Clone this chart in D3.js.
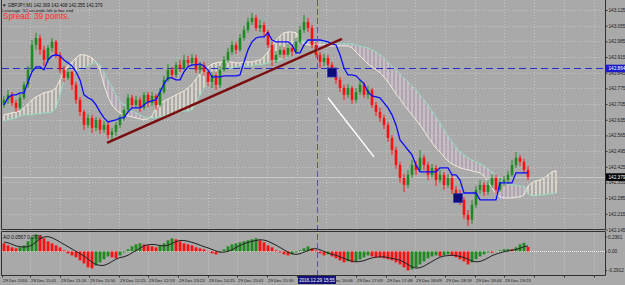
<!DOCTYPE html>
<html>
<head>
<meta charset="utf-8">
<script src="https://cdnjs.cloudflare.com/ajax/libs/d3/7.8.5/d3.min.js"></script>
<style>
body { margin: 0; background: #a9a9a9; }
svg { display: block; }
text { font-family: "Liberation Sans", Arial, sans-serif; }
</style>
</head>
<body>
<div id="chart-area"></div>
<script>
// GBPJPY M1 candles
var opens = [142.701,142.724,142.746,142.710,142.688,142.733,142.791,142.858,142.969,143.000,
142.947,142.902,142.956,142.983,142.925,142.858,142.822,142.849,142.791,142.724,
142.670,142.612,142.643,142.599,142.634,142.590,142.612,142.567,142.581,142.612,
142.643,142.679,142.733,142.701,142.724,142.688,142.746,142.710,142.741,142.701,
142.759,142.813,142.858,142.835,142.880,142.866,142.902,142.889,142.911,142.858,
142.880,142.849,142.804,142.835,142.791,142.858,142.902,142.938,142.969,142.947,
143.000,143.036,143.072,143.090,143.045,143.058,143.027,142.969,142.902,142.925,
142.947,142.925,142.956,142.938,142.983,143.036,143.072,143.045,142.969,142.925,
142.893,142.911,142.880,142.849,142.813,142.777,142.746,142.777,142.724,142.759,
142.791,142.746,142.768,142.701,142.670,142.643,142.612,142.554,142.500,142.433,
142.375,142.344,142.389,142.433,142.411,142.465,142.433,142.389,142.420,142.366,
142.389,142.344,142.375,142.322,142.299,142.277,142.210,142.188,142.255,142.322,
142.344,142.313,142.344,142.375,142.322,142.357,142.366,142.389,142.433,142.465,
142.447,142.411];

var highs = [142.741,142.768,142.759,142.724,142.750,142.804,142.875,142.991,143.023,143.014,
142.965,142.969,143.000,142.991,142.938,142.875,142.866,142.858,142.804,142.737,
142.679,142.661,142.657,142.648,142.643,142.630,142.625,142.599,142.625,142.657,
142.697,142.750,142.746,142.741,142.737,142.759,142.759,142.759,142.750,142.777,
142.831,142.884,142.871,142.893,142.902,142.925,142.920,142.929,142.925,142.893,
142.893,142.858,142.849,142.849,142.875,142.920,142.956,142.987,142.983,143.018,
143.054,143.090,143.112,143.103,143.081,143.072,143.036,142.983,142.942,142.965,
142.960,142.974,142.969,143.000,143.054,143.103,143.090,143.058,142.983,142.938,
142.929,142.925,142.893,142.862,142.826,142.791,142.795,142.786,142.777,142.813,
142.804,142.786,142.777,142.715,142.688,142.657,142.625,142.567,142.514,142.447,
142.393,142.411,142.456,142.451,142.500,142.478,142.447,142.438,142.433,142.411,
142.402,142.393,142.389,142.339,142.322,142.290,142.232,142.277,142.339,142.366,
142.357,142.366,142.393,142.389,142.375,142.384,142.407,142.456,142.491,142.478,
142.460,142.429];

var lows = [142.688,142.706,142.697,142.670,142.679,142.724,142.777,142.849,142.947,142.925,
142.875,142.889,142.938,142.911,142.844,142.804,142.813,142.768,142.706,142.652,
142.590,142.599,142.576,142.585,142.572,142.576,142.550,142.536,142.563,142.599,
142.630,142.666,142.683,142.688,142.670,142.679,142.692,142.697,142.679,142.692,
142.750,142.804,142.817,142.822,142.849,142.858,142.871,142.875,142.844,142.840,
142.831,142.786,142.777,142.768,142.777,142.849,142.889,142.925,142.929,142.938,
142.987,143.023,143.058,143.032,143.027,143.009,142.956,142.875,142.889,142.911,
142.907,142.916,142.920,142.929,142.974,143.023,143.027,142.956,142.911,142.866,
142.875,142.858,142.831,142.795,142.759,142.724,142.733,142.706,142.710,142.746,
142.733,142.728,142.688,142.652,142.625,142.594,142.536,142.478,142.416,142.353,
142.313,142.331,142.375,142.389,142.402,142.411,142.366,142.375,142.339,142.353,
142.322,142.331,142.304,142.277,142.255,142.192,142.161,142.170,142.241,142.304,
142.295,142.299,142.331,142.304,142.313,142.339,142.348,142.380,142.420,142.429,
142.398,142.366];

var closes = [142.724,142.746,142.710,142.688,142.733,142.791,142.858,142.969,143.000,142.947,
142.902,142.956,142.983,142.925,142.858,142.822,142.849,142.791,142.724,142.670,
142.612,142.643,142.599,142.634,142.590,142.612,142.567,142.581,142.612,142.643,
142.679,142.733,142.701,142.724,142.688,142.746,142.710,142.741,142.701,142.759,
142.813,142.858,142.835,142.880,142.866,142.902,142.889,142.911,142.858,142.880,
142.849,142.804,142.835,142.791,142.858,142.902,142.938,142.969,142.947,143.000,
143.036,143.072,143.090,143.045,143.058,143.027,142.969,142.902,142.925,142.947,
142.925,142.956,142.938,142.983,143.036,143.072,143.045,142.969,142.925,142.893,
142.911,142.880,142.849,142.813,142.777,142.746,142.777,142.724,142.759,142.791,
142.746,142.768,142.701,142.670,142.643,142.612,142.554,142.500,142.433,142.375,
142.344,142.389,142.433,142.411,142.465,142.433,142.389,142.420,142.366,142.389,
142.344,142.375,142.322,142.299,142.277,142.210,142.188,142.255,142.322,142.344,
142.313,142.344,142.375,142.322,142.357,142.366,142.389,142.433,142.465,142.447,
142.411,142.379];

// blue kijun line
var kijun = [142.701,142.733,142.746,142.746,142.755,142.755,142.804,142.849,142.871,142.871,
142.858,142.902,142.920,142.925,142.920,142.902,142.889,142.875,142.849,142.813,
142.746,142.733,142.724,142.701,142.670,142.643,142.625,142.630,142.634,142.643,
142.643,142.670,142.688,142.688,142.688,142.701,142.715,142.719,142.724,142.759,
142.795,142.822,142.822,142.813,142.813,142.849,142.871,142.880,142.880,142.884,
142.875,142.858,142.826,142.826,142.826,142.831,142.831,142.831,142.831,142.835,
142.893,142.947,142.983,143.000,143.005,143.005,143.023,142.991,142.983,142.983,
142.983,142.983,142.969,142.934,142.934,142.969,142.991,142.991,142.991,142.991,
142.987,142.983,142.974,142.969,142.925,142.866,142.835,142.835,142.831,142.813,
142.795,142.759,142.741,142.737,142.733,142.710,142.688,142.657,142.612,142.545,
142.523,142.500,142.478,142.433,142.402,142.402,142.402,142.402,142.402,142.420,
142.420,142.420,142.389,142.389,142.366,142.308,142.308,142.308,142.308,142.277,
142.277,142.277,142.277,142.277,142.353,142.353,142.353,142.353,142.398,142.398,
142.398,142.398];

// ichimoku cloud, runs a few bars past the last candle
var spanA = [142.657,142.661,142.666,142.670,142.674,142.688,142.706,142.724,142.737,142.746,
142.755,142.759,142.764,142.777,142.813,142.849,142.875,142.893,142.911,142.925,
142.925,142.920,142.911,142.893,142.858,142.791,142.737,142.701,142.679,142.666,
142.657,142.652,142.648,142.643,142.639,142.634,142.639,142.652,142.688,142.706,
142.719,142.728,142.737,142.746,142.755,142.764,142.777,142.795,142.817,142.840,
142.858,142.871,142.884,142.889,142.893,142.893,142.893,142.893,142.889,142.889,
142.893,142.893,142.893,142.898,142.902,142.916,142.938,142.965,142.991,143.009,
143.023,143.027,143.027,143.023,143.000,142.974,142.969,142.969,142.969,142.969,
142.969,142.965,142.965,142.965,142.965,142.965,142.965,142.956,142.938,142.920,
142.902,142.884,142.871,142.858,142.844,142.826,142.804,142.777,142.750,142.728,
142.701,142.679,142.657,142.634,142.612,142.585,142.558,142.532,142.509,142.491,
142.469,142.451,142.438,142.429,142.420,142.416,142.411,142.407,142.402,142.398,
142.384,142.357,142.331,142.304,142.290,142.286,142.286,142.286,142.290,142.290,
142.299,142.339,142.353,142.362,142.366,142.375,142.389,142.402,142.407];

var spanB = [142.630,142.634,142.639,142.643,142.652,142.657,142.657,142.657,142.661,142.661,
142.666,142.666,142.670,142.688,142.746,142.813,142.835,142.844,142.849,142.858,
142.866,142.875,142.884,142.889,142.880,142.849,142.813,142.782,142.746,142.715,
142.701,142.688,142.674,142.666,142.657,142.648,142.643,142.643,142.643,142.648,
142.652,142.657,142.661,142.666,142.670,142.674,142.674,142.679,142.706,142.746,
142.777,142.795,142.808,142.822,142.849,142.862,142.866,142.866,142.871,142.875,
142.875,142.875,142.875,142.880,142.880,142.884,142.889,142.893,142.898,142.902,
142.907,142.916,142.934,142.960,142.983,142.987,142.987,142.983,142.983,142.983,
142.983,142.978,142.978,142.978,142.974,142.974,142.974,142.974,142.969,142.965,
142.960,142.956,142.947,142.938,142.925,142.911,142.893,142.875,142.858,142.840,
142.822,142.804,142.786,142.768,142.746,142.724,142.701,142.674,142.648,142.621,
142.590,142.563,142.536,142.514,142.491,142.478,142.465,142.456,142.447,142.438,
142.429,142.416,142.402,142.384,142.366,142.357,142.348,142.344,142.344,142.339,
142.339,142.304,142.295,142.295,142.299,142.299,142.304,142.304,142.308];

// awesome oscillator and its signal line
var ao = [0.103,0.077,0.052,0.039,0.052,0.077,0.129,0.181,0.219,0.206,
0.168,0.129,0.103,0.077,0.052,0.013,-0.026,-0.052,-0.077,-0.116,
-0.155,-0.206,-0.219,-0.181,-0.142,-0.103,-0.065,-0.077,-0.090,-0.052,
-0.013,0.026,0.065,0.090,0.103,0.090,0.077,0.065,0.052,0.077,
0.103,0.142,0.168,0.155,0.129,0.103,0.090,0.077,0.052,0.039,
0.026,-0.005,-0.026,-0.039,-0.013,0.026,0.065,0.090,0.103,0.116,
0.129,0.142,0.155,0.168,0.142,0.116,0.077,0.052,0.013,-0.013,
-0.039,-0.052,-0.039,-0.013,0.013,0.039,0.065,0.039,0.013,-0.026,
-0.052,-0.039,-0.065,-0.090,-0.116,-0.142,-0.129,-0.142,-0.129,-0.103,
-0.077,-0.052,-0.065,-0.077,-0.082,-0.090,-0.103,-0.116,-0.142,-0.168,
-0.206,-0.245,-0.232,-0.206,-0.168,-0.129,-0.090,-0.065,-0.052,-0.065,
-0.052,-0.039,-0.052,-0.077,-0.103,-0.129,-0.168,-0.142,-0.103,-0.065,
-0.039,-0.013,-0.016,-0.005,0.013,0.026,0.030,0.026,0.052,0.090,
0.110,0.0567];

var aoSignal = [0.12,0.11,0.09,0.07,0.06,0.055,0.06,0.08,0.12,0.16,
0.185,0.19,0.175,0.15,0.12,0.09,0.06,0.03,0.00,-0.03,
-0.06,-0.10,-0.14,-0.17,-0.18,-0.18,-0.16,-0.13,-0.10,-0.08,
-0.07,-0.05,-0.02,0.01,0.04,0.07,0.085,0.09,0.085,0.075,
0.07,0.08,0.10,0.125,0.14,0.14,0.13,0.115,0.10,0.08,
0.06,0.045,0.025,0.005,-0.01,-0.01,0.00,0.02,0.05,0.075,
0.10,0.115,0.13,0.14,0.15,0.145,0.13,0.105,0.08,0.05,
0.02,-0.01,-0.03,-0.04,-0.03,-0.01,0.01,0.03,0.035,0.02,
0.00,-0.02,-0.04,-0.05,-0.07,-0.09,-0.11,-0.125,-0.135,-0.13,
-0.12,-0.10,-0.085,-0.075,-0.07,-0.07,-0.08,-0.09,-0.10,-0.115,
-0.14,-0.17,-0.20,-0.215,-0.21,-0.19,-0.16,-0.13,-0.10,-0.075,
-0.06,-0.055,-0.05,-0.055,-0.065,-0.08,-0.10,-0.125,-0.135,-0.13,
-0.11,-0.085,-0.055,-0.035,-0.02,-0.005,0.005,0.015,0.025,0.04,
0.06,0.07];

var priceTicks = [143.125,143.055,142.985,142.915,142.845,142.775,142.705,142.635,
142.565,142.495,142.425,142.355,142.285,142.215,142.145];
var aoTicks = [0.2361, 0.00, -0.2912];
var aoTickLabels = ["0.2361", "0.00", "-0.2912"];

var timeTickBars = [-0.5,6.5,14,21.25,28.75,36,43.5,51,58.25,65.75,73.25,80.5,88,95.5,
102.75,110.25,117.75,125,132.5,140,147.5];
var timeLabels = ["29 Dec 2016","29 Dec 11:01","29 Dec 11:24","29 Dec 11:50","29 Dec 12:25",
"29 Dec 12:53","29 Dec 13:23","29 Dec 14:25","29 Dec 15:01","29 Dec 15:30","",
"29 Dec 16:06","29 Dec 17:09","29 Dec 17:48","29 Dec 18:09","29 Dec 18:18","29 Dec 18:44",
"29 Dec 19:23","","",""];

// drawn objects: trend line, white arrow, trade markers, crosshair, bid
var trendLine = [{bar: 25.75, price: 142.532}, {bar: 84.5, price: 142.996}];
var arrowLine = [{bar: 81, price: 142.733}, {bar: 92.5, price: 142.469}];
var markers = [{bar: 82, price: 142.846}, {bar: 113.5, price: 142.286}];
var crosshair = {bar: 78.25, price: 142.864, label: "2016.12.29 15:55"};
var bid = 142.379;

var W = 625, H = 285;
var plotRight = 605;
var mainTop = 0, mainBottom = 229.5;
var subTop = 231.5, subBottom = 275.5;

var x = d3.scaleLinear().domain([0, 131]).range([4, 528]);
var y = d3.scaleLinear().domain([142.145, 143.125]).range([229.5, 10]);
var yAo = d3.scaleLinear().domain([-0.2912, 0.2361]).range([274, 233]);

var svg = d3.select("#chart-area")
	.append("svg")
	.attr("width", W)
	.attr("height", H);

svg.append("rect")
	.attr("width", W)
	.attr("height", H)
	.attr("fill", "#a9a9a9");

svg.append("clipPath").attr("id", "main-clip")
	.append("rect")
	.attr("x", 2).attr("y", mainTop)
	.attr("width", plotRight - 2).attr("height", mainBottom - mainTop);
svg.append("clipPath").attr("id", "sub-clip")
	.append("rect")
	.attr("x", 2).attr("y", subTop)
	.attr("width", plotRight - 2).attr("height", subBottom - subTop);

var g = svg.append("g").attr("clip-path", "url(#main-clip)");
var sub = svg.append("g").attr("clip-path", "url(#sub-clip)");

// grid
g.selectAll(".hgrid").data(priceTicks).enter().append("line")
	.attr("x1", 2).attr("x2", plotRight)
	.attr("y1", d => Math.round(y(d)) + 0.5).attr("y2", d => Math.round(y(d)) + 0.5)
	.attr("stroke", "#c6c6c6").attr("stroke-dasharray", "1,2");

var vgrid = timeTickBars.slice(1);
g.selectAll(".vgrid").data(vgrid).enter().append("line")
	.attr("x1", d => Math.round(x(d)) + 0.5).attr("x2", d => Math.round(x(d)) + 0.5)
	.attr("y1", mainTop).attr("y2", mainBottom)
	.attr("stroke", "#c6c6c6").attr("stroke-dasharray", "1,2");
sub.selectAll(".vgrid").data(vgrid).enter().append("line")
	.attr("x1", d => Math.round(x(d)) + 0.5).attr("x2", d => Math.round(x(d)) + 0.5)
	.attr("y1", subTop).attr("y2", subBottom)
	.attr("stroke", "#c6c6c6").attr("stroke-dasharray", "1,2");

// cloud hatching: beige when span A is on top, thistle when span B is
var cloudIdx = d3.range(spanA.length);
g.selectAll(".hatch").data(cloudIdx).enter().append("line")
	.attr("x1", d => x(d)).attr("x2", d => x(d))
	.attr("y1", d => y(spanA[d])).attr("y2", d => y(spanB[d]))
	.attr("stroke", d => spanA[d] >= spanB[d] ? "#e8e0d0" : "#d8bfd8")
	.attr("stroke-width", 1.5);

var spanLine = function(arr) {
	return d3.line().x((d, i) => x(i)).y(d => y(d))(arr);
};
g.append("path").attr("d", spanLine(spanA))
	.attr("fill", "none").attr("stroke", "#f1eadb").attr("stroke-width", 1);
g.append("path").attr("d", spanLine(spanB))
	.attr("fill", "none").attr("stroke", "#93dcc1").attr("stroke-width", 1);

// bid line and the blue horizontal of the crosshair
g.append("line")
	.attr("x1", 2).attr("x2", plotRight)
	.attr("y1", Math.round(y(bid)) + 0.5).attr("y2", Math.round(y(bid)) + 0.5)
	.attr("stroke", "#c9c9c9");
g.append("line")
	.attr("x1", 2).attr("x2", plotRight)
	.attr("y1", Math.round(y(crosshair.price)) + 0.5).attr("y2", Math.round(y(crosshair.price)) + 0.5)
	.attr("stroke", "#2b2bc8").attr("stroke-dasharray", "7,4");

// candles
var idx = d3.range(closes.length);
var candleColor = function(i) { return closes[i] >= opens[i] ? "#1f8a1f" : "#ff1010"; };

g.selectAll(".wick").data(idx).enter().append("line")
	.attr("x1", d => x(d)).attr("x2", d => x(d))
	.attr("y1", d => y(highs[d])).attr("y2", d => y(lows[d]))
	.attr("stroke", candleColor).attr("stroke-width", 1);

g.selectAll(".body").data(idx).enter().append("rect")
	.attr("x", d => x(d) - 1.3)
	.attr("width", 2.6)
	.attr("y", d => y(Math.max(opens[d], closes[d])))
	.attr("height", d => Math.max(1, Math.abs(y(opens[d]) - y(closes[d]))))
	.attr("fill", candleColor);

// kijun
g.append("path")
	.attr("d", d3.line().x((d, i) => x(i)).y(d => y(d))(kijun))
	.attr("fill", "none").attr("stroke", "#0a0aff").attr("stroke-width", 1.3);

// trend line + arrow
var objLine = d3.line().x(d => x(d.bar)).y(d => y(d.price));
g.append("path").attr("d", objLine(trendLine))
	.attr("stroke", "#7a0d0d").attr("stroke-width", 2.4).attr("fill", "none");
g.append("path").attr("d", objLine(arrowLine))
	.attr("stroke", "#ffffff").attr("stroke-width", 1.4).attr("fill", "none");

g.selectAll(".marker").data(markers).enter().append("rect")
	.attr("x", d => x(d.bar) - 4.5).attr("y", d => y(d.price) - 4.5)
	.attr("width", 9).attr("height", 9)
	.attr("fill", "#0c0c78").attr("stroke", "#3a3ac0").attr("stroke-width", 0.8);

// AO histogram
sub.append("line")
	.attr("x1", 2).attr("x2", plotRight)
	.attr("y1", Math.round(yAo(0)) + 0.5).attr("y2", Math.round(yAo(0)) + 0.5)
	.attr("stroke", "#f4f4f4").attr("stroke-dasharray", "1,1");

sub.selectAll(".aobar").data(idx).enter().append("rect")
	.attr("x", d => x(d) - 1.4)
	.attr("width", 2.8)
	.attr("y", d => Math.min(yAo(0), yAo(ao[d])))
	.attr("height", d => Math.abs(yAo(ao[d]) - yAo(0)))
	.attr("fill", d => (d > 0 && ao[d] > ao[d - 1]) ? "#1f8a1f" : "#ff1010");

sub.append("path")
	.attr("d", d3.line().x((d, i) => x(i)).y(d => yAo(d))(aoSignal))
	.attr("fill", "none").attr("stroke", "#222").attr("stroke-width", 1);

// crosshair vertical through both windows
svg.append("line")
	.attr("x1", Math.round(x(crosshair.bar)) + 0.5).attr("x2", Math.round(x(crosshair.bar)) + 0.5)
	.attr("y1", 0).attr("y2", subBottom)
	.attr("stroke", "#5656a8").attr("stroke-dasharray", "6,3");

// frames
var frame = svg.append("g").attr("stroke", "#303030").attr("fill", "none");
frame.append("path").attr("d", "M1.5,0V" + mainBottom + "H" + (plotRight + 0.5) + "V0");
frame.append("path").attr("d", "M1.5," + subTop + "V" + subBottom + "H" + (plotRight + 0.5) + "V" + subTop + "Z");

// price axis
var yAxis = d3.axisRight(y)
	.tickValues(priceTicks)
	.tickSize(2)
	.tickPadding(1)
	.tickFormat(d3.format(".3f"));
var yAxisGroup = svg.append("g")
	.attr("transform", "translate(" + (plotRight + 0.5) + ",0)")
	.call(yAxis);
yAxisGroup.select(".domain").remove();
yAxisGroup.selectAll("line").attr("stroke", "#303030");
yAxisGroup.selectAll("text").attr("font-size", "4.7px").attr("fill", "#1a1a1a").attr("font-family", "Liberation Sans");

var priceTag = function(price, bg) {
	var tag = svg.append("g").attr("transform", "translate(" + (plotRight + 1) + "," + y(price) + ")");
	tag.append("rect").attr("x", 0).attr("y", -3.8).attr("width", 19).attr("height", 7.6).attr("fill", bg);
	tag.append("text").attr("x", 2.5).attr("dy", "0.34em")
		.attr("font-size", "4.7px").attr("fill", "#fff")
		.text(d3.format(".3f")(price));
};
priceTag(crosshair.price, "#1c1cc8");
priceTag(bid, "#000000");

// AO axis
svg.selectAll(".aolabel").data(aoTicks).enter().append("text")
	.attr("x", plotRight + 3)
	.attr("y", (d, i) => yAo(d) + [4, 0.5, -3.5][i])
	.attr("dy", "0.34em")
	.attr("font-size", "4.7px").attr("fill", "#1a1a1a")
	.text((d, i) => aoTickLabels[i]);
svg.selectAll(".aotick").data(aoTicks).enter().append("line")
	.attr("x1", plotRight).attr("x2", plotRight + 2)
	.attr("y1", (d, i) => yAo(d) + [4, 0.5, -3.5][i])
	.attr("y2", (d, i) => yAo(d) + [4, 0.5, -3.5][i])
	.attr("stroke", "#303030");

// time axis
var xAxis = d3.axisBottom(x)
	.tickValues(timeTickBars)
	.tickSize(2)
	.tickPadding(1)
	.tickFormat((d, i) => timeLabels[i]);
var xAxisGroup = svg.append("g")
	.attr("transform", "translate(0," + subBottom + ")")
	.call(xAxis);
xAxisGroup.select(".domain").remove();
xAxisGroup.selectAll("line").attr("stroke", "#303030");
xAxisGroup.selectAll("text")
	.attr("text-anchor", "start")
	.attr("x", 0.5)
	.attr("font-size", "4.3px").attr("fill", "#1a1a1a").attr("font-family", "Liberation Sans");

var timeTag = svg.append("g").attr("transform", "translate(" + x(crosshair.bar) + "," + subBottom + ")");
timeTag.append("rect").attr("x", -19).attr("y", 0.5).attr("width", 38).attr("height", 8).attr("fill", "#12127a");
timeTag.append("text").attr("x", 0).attr("y", 6.3).attr("text-anchor", "middle")
	.attr("font-size", "4.6px").attr("fill", "#fff").text(crosshair.label);

// header texts
svg.append("text").attr("x", 2).attr("y", 6.8).attr("font-size", "4.5px").attr("fill", "#111")
	.text("\u25BC GBPJPY,M1  142.369 142.408 142.355 142.379");
svg.append("text").attr("x", 2).attr("y", 11.6).attr("font-size", "4.4px").attr("fill", "#111")
	.text("Leverage: 52 seconds left to bar end");
svg.append("text").attr("x", 3).attr("y", 19.2).attr("font-size", "8.2px").attr("fill", "#ff2a2a")
	.text("Spread: 39 points.");
svg.append("text").attr("x", 3).attr("y", 238.5).attr("font-size", "4.8px").attr("fill", "#111")
	.text("AO 0.0567 0.0700");
</script>
</body>
</html>
